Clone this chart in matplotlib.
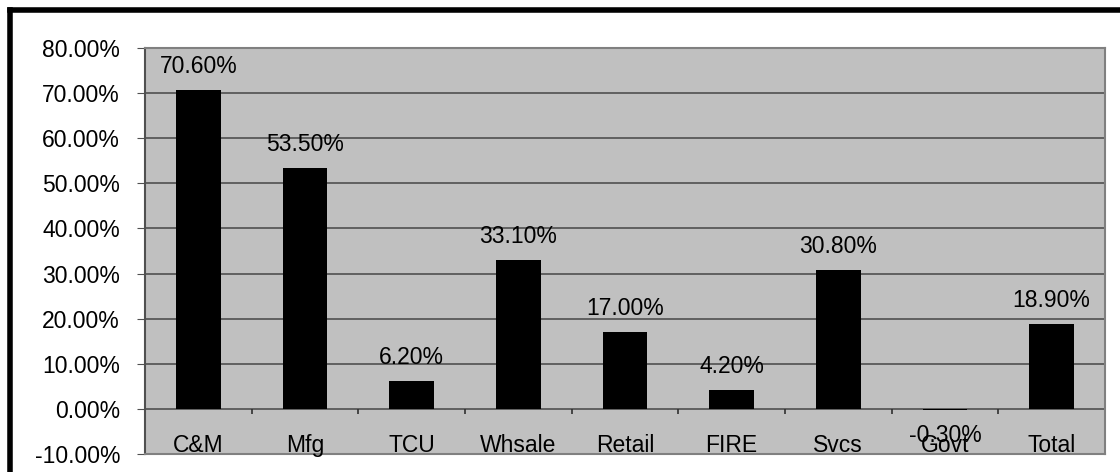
import numpy as np
import matplotlib
matplotlib.use('Agg')
import matplotlib.pyplot as plt
from matplotlib.lines import Line2D

# data
categories = ['C&M', 'Mfg', 'TCU', 'Whsale', 'Retail', 'FIRE', 'Svcs', 'Govt', 'Total']
values = [70.6, 53.5, 6.2, 33.1, 17.0, 4.2, 30.8, -0.3, 18.9]
yticks = np.arange(-10, 81, 10)

plt.rcParams['font.family'] = ['Liberation Sans', 'DejaVu Sans']
FS = 16.5

fig = plt.figure(figsize=(11.2, 4.72), dpi=100)
ax = fig.add_axes([145 / 1120, 1 - 454 / 472, 960 / 1120, 406 / 472])
ax.set_facecolor('#C0C0C0')

x = np.arange(len(categories))
ax.bar(x, values, width=0.42, color='black', zorder=3)

# gridlines
for y in yticks:
    ax.axhline(y, color='#505050', lw=1.2, zorder=1)

ax.set_xlim(-0.5, len(categories) - 0.5)
ax.set_ylim(-10, 80)
ax.set_yticks(yticks)
ax.set_yticklabels([f'{v:.2f}%' for v in yticks], fontsize=FS)
ax.tick_params(axis='y', direction='out', length=6, color='#505050', pad=12)
ax.set_xticks([])
for s in ax.spines.values():
    s.set_color('#808080')
    s.set_linewidth(1.5)
ax.spines['left'].set_color('#505050')

# category axis at zero with tick marks between categories
bounds = np.arange(len(categories) + 1) - 0.5
ax.vlines(bounds, -1.2, 0, color='#303030', lw=1.2, zorder=2)
for xi, c in zip(x, categories):
    ax.text(xi, -9.5, c, ha='center', va='baseline', fontsize=FS, zorder=4)

# value labels
for xi, v in zip(x, values):
    if v >= 0:
        ax.annotate(f'{v:.2f}%', (xi, v), xytext=(0, 12), textcoords='offset pixels',
                    ha='center', va='bottom', fontsize=FS, zorder=5)
    else:
        ax.annotate(f'{v:.2f}%', (xi, v), xytext=(0, -14), textcoords='offset pixels',
                    ha='center', va='top', fontsize=FS, zorder=5)

# outer frame (top and left edges visible)
fig.add_artist(Line2D([9.5 / 1120, 9.5 / 1120], [0, 1 - 9.5 / 472], transform=fig.transFigure,
                      color='black', lw=4, solid_capstyle='projecting'))
fig.add_artist(Line2D([9.5 / 1120, 1], [1 - 9.5 / 472, 1 - 9.5 / 472], transform=fig.transFigure,
                      color='black', lw=4, solid_capstyle='projecting'))

fig.savefig('out.png', dpi=100)
